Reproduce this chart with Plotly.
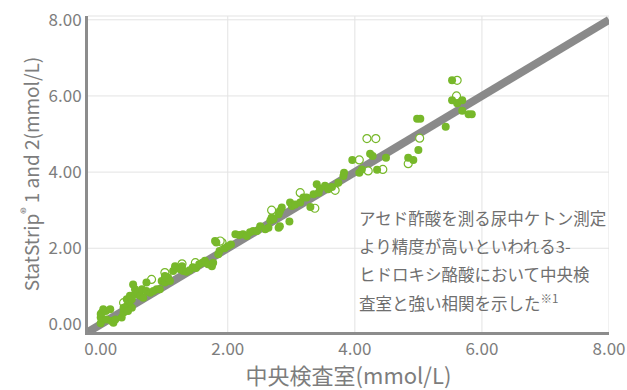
import plotly.graph_objects as go

# StatStrip vs. central laboratory, beta-hydroxybutyrate (mmol/L)
lab_filled = [
    0.00, 0.00, 0.00, 0.02, 0.04, 0.08, 0.09, 0.15, 0.17, 0.20, 0.23, 0.33, 0.38, 0.41,
    0.36, 0.41, 0.36, 0.43, 0.49, 0.43, 0.46, 0.41, 0.46, 0.49, 0.54, 0.54, 0.51, 0.59,
    0.62, 0.67, 0.65, 0.72, 0.78, 0.83, 0.88, 0.93, 0.72, 0.96, 1.01, 1.09, 1.06, 1.01,
    1.14, 1.17, 1.25, 1.28, 1.30, 1.35, 1.40, 1.45, 1.50, 1.55, 1.60, 1.64, 1.69, 1.75,
    1.77, 1.85, 1.87, 1.82, 1.80, 1.95, 2.00, 2.05, 2.12, 2.18, 2.24, 2.30, 2.35, 2.40,
    2.46, 2.51, 2.59, 2.64, 2.80, 2.82, 2.67, 2.69, 2.72, 2.80, 2.82, 2.85, 2.97, 2.98,
    3.01, 3.06, 3.14, 3.19, 3.24, 3.30, 3.35, 3.43, 3.40, 3.45, 3.53, 3.58, 3.64, 3.74,
    3.82, 3.83, 3.96, 4.07, 4.11, 4.35, 4.24, 4.28, 4.49, 4.84, 4.92, 5.00, 4.98, 5.03,
    5.43, 5.53, 5.53, 5.61, 5.69, 5.69, 5.79, 5.84,
]
strip_filled = [
    0.03, 0.18, 0.27, 0.31, 0.40, 0.35, 0.13, 0.40, 0.09, 0.04, 0.13, 0.18, 0.35, 0.48,
    0.31, 0.40, 0.44, 0.53, 0.44, 0.35, 0.61, 0.66, 0.75, 0.66, 0.79, 0.92, 1.05, 0.83,
    0.75, 0.70, 0.92, 0.88, 0.83, 0.88, 0.92, 0.92, 1.10, 1.14, 1.10, 1.14, 1.23, 1.27,
    1.40, 1.53, 1.45, 1.53, 1.40, 1.38, 1.42, 1.50, 1.48, 1.58, 1.62, 1.67, 1.58, 1.53,
    1.62, 1.84, 1.93, 2.15, 2.19, 2.00, 2.05, 2.10, 2.37, 2.35, 2.37, 2.32, 2.42, 2.45,
    2.45, 2.58, 2.50, 2.54, 2.54, 2.58, 2.73, 2.80, 2.76, 2.89, 2.98, 3.07, 2.70, 3.20,
    3.11, 3.15, 3.20, 3.33, 3.33, 3.08, 3.42, 3.46, 3.68, 3.57, 3.64, 3.55, 3.61, 3.72,
    3.90, 3.98, 4.32, 3.98, 4.07, 4.06, 4.48, 4.42, 4.38, 4.38, 4.32, 4.58, 5.40, 5.40,
    5.19, 6.41, 5.89, 5.81, 5.89, 5.61, 5.52, 5.52,
]
lab_open = [0.36, 0.80, 1.01, 1.28, 1.49, 1.91, 1.88, 2.69, 3.14, 3.37, 3.69, 4.07,
            4.21, 4.44, 4.84, 4.19, 4.33, 5.02, 5.60, 5.61]
strip_open = [0.57, 1.18, 1.36, 1.59, 1.62, 2.15, 2.19, 3.00, 3.46, 3.05, 3.52, 4.32,
              4.03, 4.07, 4.22, 4.88, 4.88, 4.89, 6.00, 6.41]

identity = [-0.2, 8.0]
tick_vals = [0, 2, 4, 6, 8]
tick_text = ["0.00", "2.00", "4.00", "6.00", "8.00"]
note_lines = [
    "アセド酢酸を測る尿中ケトン測定",
    "より精度が高いといわれる3-",
    "ヒドロキシ酪酸において中央検",
    "査室と強い相関を示した<sup>※1</sup>",
]

GREEN = "#77b82a"
GRAY_TEXT = "#7d7d7d"
AXIS = "#8c8c8c"
GRID = "#e3e3e3"
FONT = "Noto Sans CJK JP"

fig = go.Figure()
fig.add_trace(go.Scatter(
    x=identity, y=identity, mode="lines",
    line=dict(color="#8a8a8a", width=8), hoverinfo="skip",
))
fig.add_trace(go.Scatter(
    x=lab_open, y=strip_open, mode="markers",
    marker=dict(symbol="circle", size=8, color="white",
                line=dict(color=GREEN, width=1.2)),
))
fig.add_trace(go.Scatter(
    x=lab_filled, y=strip_filled, mode="markers",
    marker=dict(symbol="circle", size=8, color=GREEN),
))

# grid lines (the zero lines coincide with the axes, so they are drawn here)
shapes = []
for v in tick_vals[1:]:
    shapes.append(dict(type="line", xref="x", yref="paper", x0=v, x1=v, y0=0, y1=1,
                       line=dict(color=GRID, width=1), layer="below"))
    shapes.append(dict(type="line", xref="paper", yref="y", x0=0, x1=1, y0=v, y1=v,
                       line=dict(color=GRID, width=1), layer="below"))
shapes.append(dict(type="line", xref="paper", yref="paper", x0=0, x1=1, y0=1, y1=1,
                   line=dict(color=GRID, width=1), layer="below"))

annotations = []
for i, line in enumerate(note_lines):
    annotations.append(dict(
        text=line, xref="paper", yref="paper", x=0.516, y=0.361 - i * 0.0895,
        xanchor="left", yanchor="middle", showarrow=False,
        font=dict(family=FONT, size=16.5, color="#6f6f6f"),
    ))

fig.update_layout(
    width=627, height=390,
    margin=dict(l=88, r=18, t=16, b=58),
    paper_bgcolor="white", plot_bgcolor="white",
    showlegend=False,
    font=dict(family=FONT, color=GRAY_TEXT),
    shapes=shapes, annotations=annotations,
)
fig.update_xaxes(
    range=[-0.2, 8.0], tickvals=tick_vals, ticktext=tick_text, automargin=False,
    showgrid=False, zeroline=False, showline=True, linecolor=AXIS, linewidth=3,
    tickfont=dict(size=17, color=GRAY_TEXT), ticks="",
    title=dict(text="中央検査室(mmol/L)", font=dict(size=22, color=GRAY_TEXT), standoff=4),
)
fig.update_yaxes(
    range=[-0.2, 8.1], tickvals=tick_vals, ticktext=tick_text, automargin=False,
    showgrid=False, zeroline=False, showline=True, linecolor=AXIS, linewidth=3,
    tickfont=dict(size=17, color=GRAY_TEXT), ticks="",
    title=dict(text="StatStrip<sup>®</sup> 1 and 2(mmol/L)",
               font=dict(size=19, color=GRAY_TEXT), standoff=4),
)

fig.write_html("out.html")
